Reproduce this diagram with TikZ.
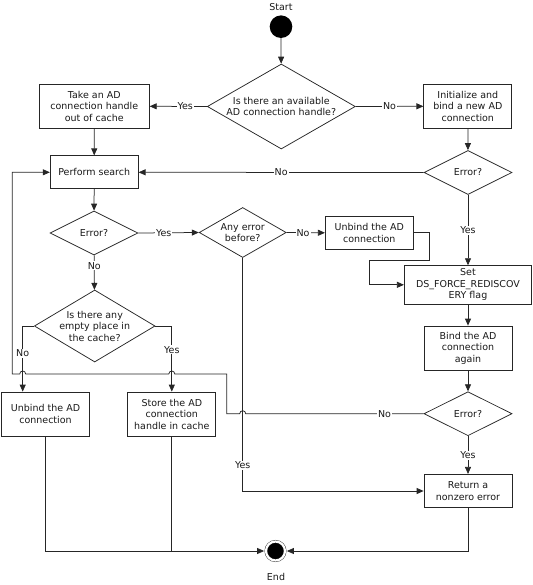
\documentclass[tikz,border=0pt]{standalone}
\usepackage{fontspec}
\setmainfont{DejaVu Sans}
\usetikzlibrary{shapes.geometric,arrows.meta}
\begin{document}
\begin{tikzpicture}[x=1pt,y=1pt,>={Triangle[length=7pt,width=6pt]},
    every node/.style={font=\fontsize{9.5}{11.5}\selectfont,text=black!90},
    box/.style={rectangle,draw=black!85,line width=0.75pt,align=center,
        inner sep=1pt,minimum width=88pt,minimum height=44pt},
    choice/.style={diamond,draw=black!85,line width=0.75pt,align=center,
        inner sep=-2pt},
    lbl/.style={fill=white,inner sep=1pt},
    flow/.style={draw=black!85,line width=0.75pt}]
    \useasboundingbox (0,0) rectangle (532,-585);
    \node[circle,fill=black,minimum size=22.6pt,inner sep=0pt] (start)
        at (281,-26.7) {};
    \node (startlbl) at (281,-7) {Start};
    \node[choice,minimum width=148pt,minimum height=85pt,aspect=1.74] (ask)
        at (281.3,-106.5) {Is there an available\\AD connection handle?};
    \node[box,minimum width=110pt] (take) at (94.3,-106.3)
        {Take an AD\\connection handle\\out of cache};
    \node[box] (init) at (467.8,-106.3) {Initialize and\\bind a new AD\\connection};
    \node[box,minimum height=33pt] (search) at (94.2,-172.3) {Perform search};
    \node[choice,minimum width=88pt,minimum height=44pt,aspect=2] (errA)
        at (468,-172.5) {Error?};
    \node[choice,minimum width=88pt,minimum height=44pt,aspect=2] (errB)
        at (94,-233) {Error?};
    \node[choice,minimum width=87pt,minimum height=50pt,aspect=1.74] (before)
        at (242.7,-232.5) {Any error\\before?};
    \node[box,minimum height=32.3pt] (unbindA) at (369.3,-232.8)
        {Unbind the AD\\connection};
    \node[box,minimum width=127.4pt,minimum height=38.3pt] (setflag)
        at (468,-284.8) {Set\\DS\_FORCE\_REDISCOV\\ERY flag};
    \node[choice,minimum width=120.7pt,minimum height=72pt,aspect=1.68] (empty)
        at (94.7,-326) {Is there any\\empty place in\\the cache?};
    \node[box] (bind) at (468,-348) {Bind the AD\\connection\\again};
    \node[box,minimum width=87.6pt] (unbindB) at (45.5,-414)
        {Unbind the AD\\connection};
    \node[box] (store) at (171.8,-414) {Store the AD\\connection\\handle in cache};
    \node[choice,minimum width=88pt,minimum height=44pt,aspect=2] (errC)
        at (468,-413.7) {Error?};
    \node[box,minimum height=33.3pt] (ret) at (468,-491) {Return a\\nonzero error};
    \node[circle,draw=black!85,fill=black,minimum size=19pt,inner sep=0pt,
        double,double distance=2.2pt,outer sep=1.9pt] (stop) at (275.5,-551) {};
    \node (endlbl) at (276,-577) {End};
    \coordinate (nobend) at (22.7,-326);

    \draw[flow,->] (start) -- (ask);
    \draw[flow,->] (ask.west) -- node[lbl,pos=0.38]{Yes} (take.east);
    \draw[flow,->] (ask.east) -- node[lbl]{No} (init.west);
    \draw[flow,->] (take) -- (search);
    \draw[flow,->] (init) -- (errA);
    \draw[flow,->] (errA.west) -- node[lbl]{No} (search.east);
    \draw[flow,->] (search) -- (errB);
    \draw[flow,->] (errB.east) -- node[lbl,pos=0.42]{Yes} (before.west);
    \draw[flow,->] (before.east) -- node[lbl,pos=0.43]{No} (unbindA.west);
    \draw[flow,->] (unbindA.east) -- ++(16,0) |- ++(-60,-27.2) |- (setflag.west);
    \draw[flow,->] (errA) -- node[lbl]{Yes} (setflag);
    \draw[flow,->] (setflag) -- (bind);
    \draw[flow,->] (bind) -- (errC);
    \draw[flow,->] (errC) -- node[lbl]{Yes} (ret);
    \draw[flow,->] (errB) -- node[lbl,pos=0.3]{No} (empty);
    \draw[flow,->] (empty.west) -- (nobend) -- node[lbl,pos=0.42]{No}
        (nobend |- unbindB.north);
    \draw[flow,->] (empty.east) -| node[lbl,pos=0.68]{Yes} (store.north);
    \draw[flow,->] (errC.west) -- node[lbl,pos=0.22]{No} (245.7,-413.7)
        arc (0:180:3) -- (226.7,-413.7) -- (226.7,-374) -- (174.8,-374)
        arc (0:180:3) -- (25.7,-374) arc (0:180:3) -- (12.3,-374)
        |- (search.west);
    \draw[flow,->] (before.south) |- node[lbl,pos=0.445]{Yes} (ret.west);
    \draw[flow,->] (unbindB.south) |- (stop.west);
    \draw[flow] (store.south) -- (store.south |- stop.west);
    \draw[flow,->] (ret.south) |- (stop.east);
\end{tikzpicture}
\end{document}
